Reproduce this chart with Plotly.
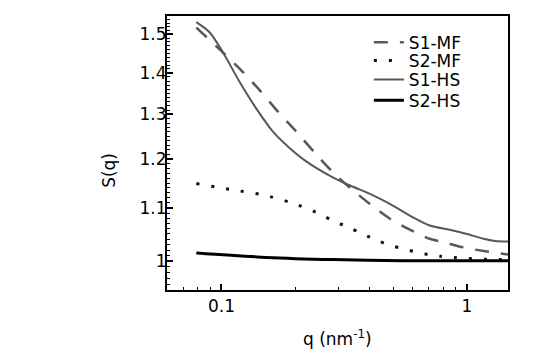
import numpy as np
import plotly.graph_objects as go

# ---- data ----
q_s1mf = [0.079, 0.1015, 0.1207, 0.1433, 0.1702, 0.2023, 0.2381, 0.2814, 0.3395, 0.4025, 0.4852,
          0.5853, 0.7058, 0.80, 0.97, 1.19, 1.47]
s1mf = [1.518, 1.452, 1.406, 1.357, 1.306, 1.260, 1.216, 1.175, 1.137, 1.108, 1.079,
        1.058, 1.041, 1.035, 1.025, 1.018, 1.012]

q_s2mf = [0.079, 0.1115, 0.1478, 0.1961, 0.2521, 0.287, 0.3284, 0.376, 0.4316, 0.4852, 0.548,
          0.6168, 0.698, 0.78, 0.88, 1.0, 1.13, 1.47]
s2mf = [1.149, 1.136, 1.126, 1.109, 1.088, 1.074, 1.063, 1.050, 1.038, 1.029, 1.023,
        1.017, 1.012, 1.009, 1.007, 1.005, 1.004, 1.003]

q_s1hs = [0.079, 0.0896, 0.1015, 0.1188, 0.1389, 0.1624, 0.1899, 0.2222, 0.2768, 0.3342,
          0.4025, 0.4852, 0.5853, 0.7058, 0.8512, 1.0, 1.1696, 1.30, 1.47]
s1hs = [1.533, 1.505, 1.452, 1.377, 1.313, 1.260, 1.224, 1.195, 1.165, 1.145,
        1.128, 1.108, 1.085, 1.066, 1.058, 1.050, 1.041, 1.037, 1.036]

q_s2hs = [0.079, 0.1526, 0.285, 0.55, 1.0, 1.47]
s2hs = [1.015, 1.007, 1.003, 1.001, 1.001, 1.001]

y_ticks = [1.0, 1.1, 1.2, 1.3, 1.4, 1.5]
y_ticklabels = ["1", "1.1", "1.2", "1.3", "1.4", "1.5"]
x_ticks = [0.1, 1]
x_ticklabels = ["0.1", "1"]

GREY = "#585858"
FONT = "DejaVu Sans, Verdana, sans-serif"

fig = go.Figure()
fig.add_trace(go.Scatter(x=q_s1mf, y=s1mf, mode="lines", name="S1-MF", legend="legend",
                         line=dict(color=GREY, width=2.5, dash="14px,12px", shape="spline", smoothing=0.8)))
fig.add_trace(go.Scatter(x=q_s2mf, y=s2mf, mode="lines", name="S2-MF", legend="legend2",
                         line=dict(color="#111111", width=3, dash="3px,12px", shape="spline", smoothing=0.8)))
fig.add_trace(go.Scatter(x=q_s1hs, y=s1hs, mode="lines", name="S1-HS", legend="legend3",
                         line=dict(color=GREY, width=2, shape="spline", smoothing=0.8)))
fig.add_trace(go.Scatter(x=q_s2hs, y=s2hs, mode="lines", name="S2-HS", legend="legend4",
                         line=dict(color="#000000", width=3, shape="spline", smoothing=0.8)))

y_minor = [round(v, 2) for v in np.arange(0.95, 1.551, 0.01) if round(v, 2) not in y_ticks]
x_minor = [0.06, 0.07, 0.08, 0.09, 0.2, 0.3, 0.4, 0.5, 0.6, 0.7, 0.8, 0.9]

legend_common = dict(x=0.592, xanchor="left", yanchor="middle",
                     bgcolor="rgba(0,0,0,0)", font=dict(size=17, family=FONT), borderwidth=0)
legend_y = [0.903, 0.836, 0.767, 0.691]

# page body has an 8px margin, so the figure is 8px smaller than the window
fig.update_layout(
    width=549, height=342,
    margin=dict(l=159, r=49, t=6, b=60),
    paper_bgcolor="white", plot_bgcolor="white",
    font=dict(family=FONT, size=17, color="black"),
    showlegend=True,
    legend=dict(y=legend_y[0], **legend_common),
    legend2=dict(y=legend_y[1], **legend_common),
    legend3=dict(y=legend_y[2], **legend_common),
    legend4=dict(y=legend_y[3], **legend_common),
    xaxis=dict(type="log", range=[np.log10(0.06), np.log10(1.47)],
               tickvals=x_ticks, ticktext=x_ticklabels,
               ticks="inside", ticklen=6, tickwidth=1.5, tickcolor="black",
               showline=True, linecolor="black", linewidth=2, mirror=True,
               showgrid=False, zeroline=False, tickfont=dict(size=17),
               minor=dict(tickvals=x_minor, ticks="inside", ticklen=3, tickwidth=1.2,
                          tickcolor="black", showgrid=False)),
    yaxis=dict(type="log", range=[np.log10(0.95), np.log10(1.55)],
               tickvals=y_ticks, ticktext=y_ticklabels, ticklabelstandoff=-5,
               ticks="inside", ticklen=6, tickwidth=1.5, tickcolor="black",
               showline=True, linecolor="black", linewidth=2, mirror=True,
               showgrid=False, zeroline=False, tickfont=dict(size=17),
               minor=dict(tickvals=y_minor, ticks="inside", ticklen=3, tickwidth=1.2,
                          tickcolor="black", showgrid=False)),
    annotations=[
        dict(text="S(q)", xref="paper", yref="paper", x=-0.170, y=0.435,
             textangle=-90, showarrow=False, font=dict(size=17, family=FONT),
             xanchor="center", yanchor="middle"),
        dict(text="q (nm<sup>-1</sup>)", xref="paper", yref="paper", x=0.5, y=-0.175,
             showarrow=False, font=dict(size=17, family=FONT),
             xanchor="center", yanchor="middle"),
    ],
)

fig.write_html("out.html")
